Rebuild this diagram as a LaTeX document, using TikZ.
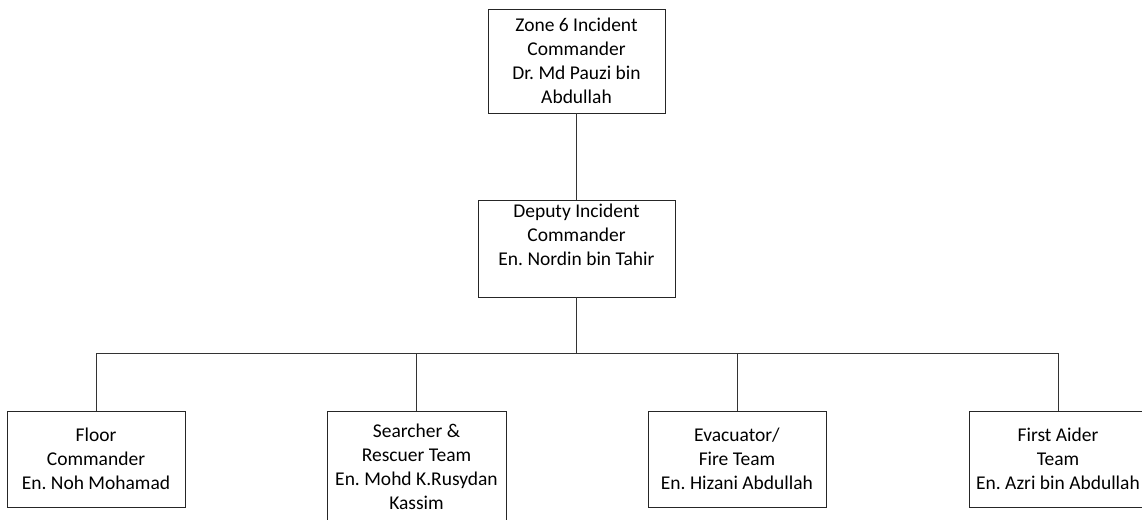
\documentclass[tikz,border=0pt]{standalone}
\usepackage{fontspec}
\setmainfont{Carlito}
\frenchspacing

\begin{document}
\begin{tikzpicture}[x=1pt,y=-1pt,
  every node/.style={font=\fontsize{19.5}{24}\selectfont,align=center},
  post/.style={shape=rectangle,draw=black!85,line width=0.8pt,inner sep=0pt,
               minimum width=178pt,minimum height=96pt}]
\useasboundingbox (0,0) rectangle (1142,519);
\node    (zone) at (576.5, 61)   [post,minimum width=177pt,minimum height=104pt] {Zone 6 Incident\\Commander\\Dr. Md Pauzi bin\\Abdullah};
\node  (deputy) at (576.5,248.5) [post,minimum width=197pt,minimum height=97pt] {Deputy Incident\\Commander\\En. Nordin bin Tahir\\[-4pt]\strut};
\node   (floor) at (96,  459)    [post] {Floor\\Commander\\En. Noh Mohamad};
\node  (search) at (416.5,467)   [post,minimum width=179pt,minimum height=112pt] {Searcher \&\\Rescuer Team\\En. Mohd K.Rusydan\\Kassim};
\node    (evac) at (737, 459)    [post] {Evacuator/\\Fire Team\\En. Hizani Abdullah};
\node   (aider) at (1058,459)    [post] {First Aider\\Team\\En. Azri bin Abdullah};
\coordinate (bus) at (576.5,353);
\draw [-,draw=black!80,line width=0.8pt]   (zone) -- (deputy);
\draw [-,draw=black!80,line width=0.8pt] (deputy) -- (bus);
\draw [-,draw=black!80,line width=0.8pt]    (bus) -| (floor);
\draw [-,draw=black!80,line width=0.8pt]    (bus) -| (search);
\draw [-,draw=black!80,line width=0.8pt]    (bus) -| (evac);
\draw [-,draw=black!80,line width=0.8pt]    (bus) -| (aider);
\end{tikzpicture}
\end{document}
